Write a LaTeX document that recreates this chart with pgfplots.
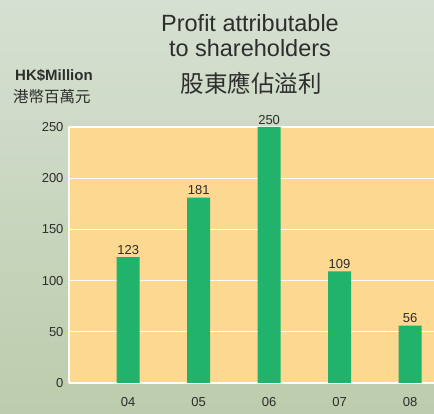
\documentclass[border=0pt]{standalone}
\usepackage{pgfplots}
\pgfplotsset{compat=1.18}
\usepackage{fontspec}
\setmainfont{Liberation Sans}
\newfontfamily\cjk{Noto Sans CJK TC}
\definecolor{plotbg}{RGB}{253,216,144}
\definecolor{bargreen}{RGB}{33,179,108}
\definecolor{txt}{RGB}{45,45,45}
\begin{document}
\begin{tikzpicture}[x=1pt,y=1pt]
\useasboundingbox (0,0) rectangle (434,414);
\shade[top color={rgb,255:red,214;green,224;blue,210}, bottom color={rgb,255:red,188;green,204;blue,172}] (0,0) rectangle (434,414);
\begin{axis}[
  at={(128.2pt,31pt)}, anchor=origin,
  scale only axis, width=365pt, height=256pt,
  xmin=-0.84, xmax=4.34, ymin=0, ymax=250,
  axis background/.style={fill=plotbg},
  axis lines=left, axis line style={-, white, line width=1.2pt},
  ytick={0,50,100,150,200,250},
  xtick={0,1,2,3,4}, xticklabels={04,05,06,07,08},
  major tick length=0pt,
  ymajorgrids, grid style={white, line width=1.2pt},
  /pgf/number format/assume math mode=true,
  tick label style={font=\fontsize{13}{15}\selectfont, text=txt},
  yticklabel style={xshift=-2pt},
  xticklabel style={yshift=-11pt},
  clip=false,
  nodes near coords,
  every node near coord/.append style={font=\fontsize{13}{15}\selectfont, text=txt, yshift=-1pt},
]
\addplot[ybar, bar width=23pt, fill=bargreen, draw=none] coordinates {(0,123) (1,181) (2,250) (3,109) (4,56)};
\end{axis}
\node[anchor=base, text=txt, font=\fontsize{23.5}{26}\selectfont] at (250,382) {Profit attributable};
\node[anchor=base, text=txt, font=\fontsize{23.5}{26}\selectfont] at (250,357) {to shareholders};
\node[anchor=center, text=txt, font=\cjk\fontsize{23.5}{26}\selectfont] at (251,331) {股東應佔溢利};
\node[anchor=base west, inner sep=0pt, text=txt, font=\bfseries\fontsize{15}{17}\selectfont] at (15,333) {HK\$Million};
\node[anchor=west, inner sep=0pt, text=txt, font=\cjk\fontsize{15.5}{17}\selectfont] at (13,317) {港幣百萬元};
\end{tikzpicture}
\end{document}
